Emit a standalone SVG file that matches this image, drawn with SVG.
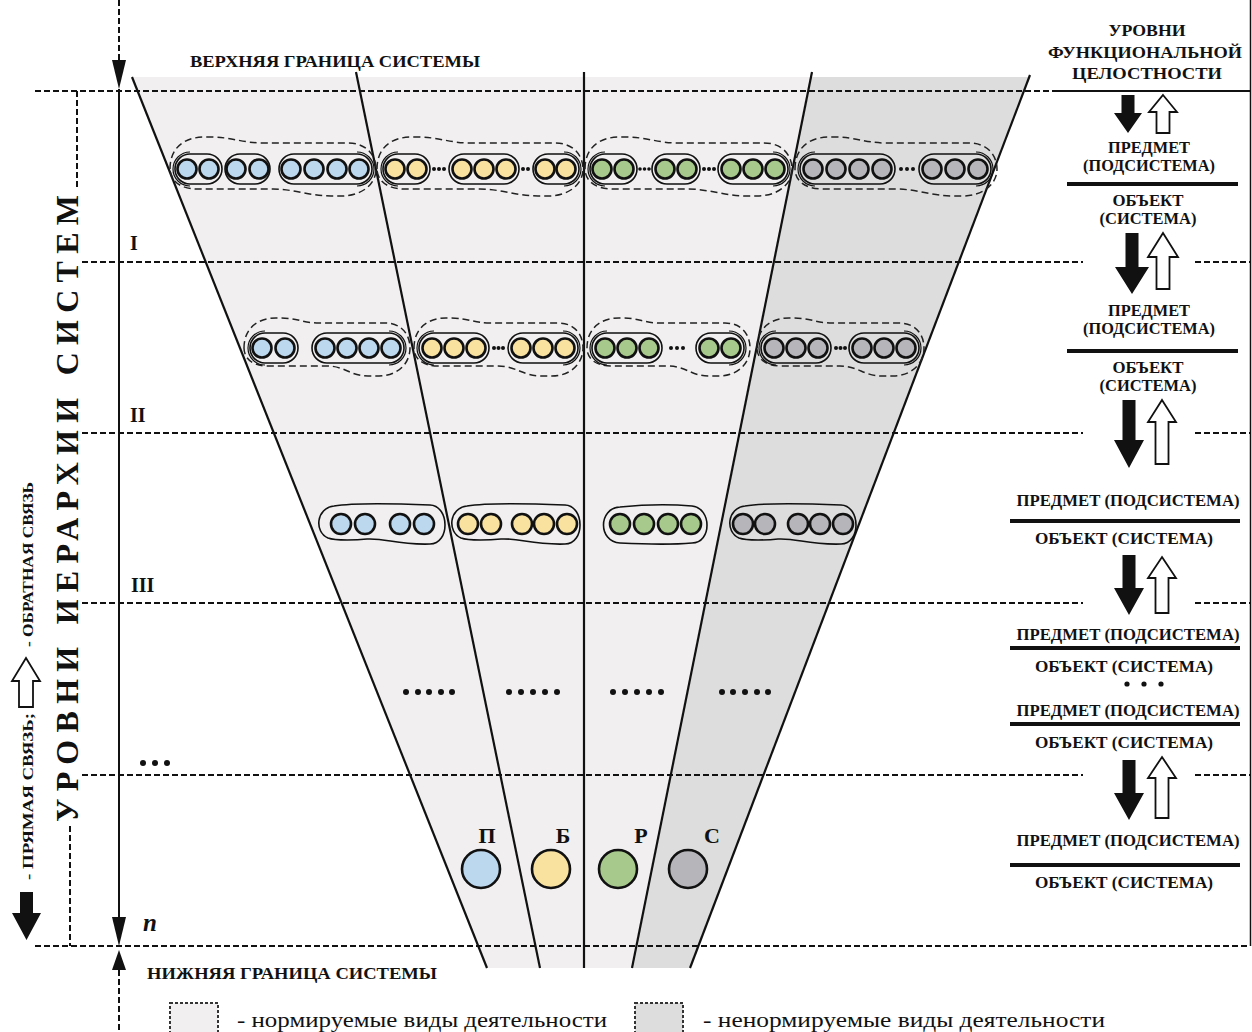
<svg xmlns="http://www.w3.org/2000/svg" width="1252" height="1032" viewBox="0 0 1252 1032">
  <style>
    .t { font-family: "Liberation Serif", "DejaVu Serif", serif; font-weight: bold; fill: #111; }
    .tr { font-family: "Liberation Serif", "DejaVu Serif", serif; fill: #111; }
    .mid { text-anchor: middle; }
    .dash { fill: none; stroke: #111; stroke-width: 2; stroke-dasharray: 6 3; }
    .edge { fill: none; stroke: #111; stroke-width: 2.2; }
    .cap { fill: none; stroke: #111; stroke-width: 1.6; }
    .ring { fill: none; stroke: #111; stroke-width: 1.2; }
    .encl { fill: none; stroke: #222; stroke-width: 1.5; stroke-dasharray: 7 4; }
    .blob { fill: none; stroke: #111; stroke-width: 1.6; }
    .dot { fill: #111; }
    .cb { fill: #bcd8ef; stroke: #111; stroke-width: 2.6; }
    .cy { fill: #f9e2a0; stroke: #111; stroke-width: 2.6; }
    .cg { fill: #a7c98b; stroke: #111; stroke-width: 2.6; }
    .cs { fill: #b6b6ba; stroke: #111; stroke-width: 2.6; }
    .bar { stroke: #111; stroke-width: 4; }
    .fwd { fill: #111; }
    .back { fill: #fff; stroke: #111; stroke-width: 1.8; }
  </style>

  <!-- funnel of activity kinds -->
  <g id="funnel">
    <polygon points="132,77 811,77 632,968 487,968" fill="#f1eff0"/>
    <polygon points="811,77 1030,77 690,968 632,968" fill="#dcdddc"/>
    <line class="edge" x1="132" y1="77" x2="487" y2="968"/>
    <line class="edge" x1="356" y1="72" x2="540" y2="968"/>
    <line class="edge" x1="584" y1="72" x2="584" y2="968"/>
    <line class="edge" x1="812" y1="72" x2="632" y2="968"/>
    <line class="edge" x1="1030" y1="75" x2="690" y2="968"/>
  </g>

  <!-- hierarchy levels -->
  <g id="levels">
    <line class="dash" x1="35" y1="91" x2="1058" y2="91"/>
    <line x1="1058" y1="91" x2="1250" y2="91" stroke="#111" stroke-width="2"/>
    <line class="dash" x1="82" y1="262" x2="1083" y2="262"/>
    <line class="dash" x1="1195" y1="262" x2="1250" y2="262"/>
    <line class="dash" x1="82" y1="433" x2="1083" y2="433"/>
    <line class="dash" x1="1195" y1="433" x2="1250" y2="433"/>
    <line class="dash" x1="82" y1="603" x2="1083" y2="603"/>
    <line class="dash" x1="1195" y1="603" x2="1250" y2="603"/>
    <line class="dash" x1="82" y1="775" x2="1083" y2="775"/>
    <line class="dash" x1="1195" y1="775" x2="1250" y2="775"/>
    <line class="dash" x1="35" y1="946" x2="1250" y2="946"/>
    <line x1="1250.5" y1="0" x2="1250.5" y2="946" stroke="#111" stroke-width="1.5"/>
    <line class="dash" x1="77" y1="91" x2="77" y2="188"/>
    <line class="dash" x1="70" y1="826" x2="70" y2="946"/>
    <text class="t" x="130" y="250" font-size="20">I</text>
    <text class="t" x="130" y="422" font-size="20">II</text>
    <text class="t" x="131" y="592" font-size="20">III</text>
    <circle class="dot" cx="143" cy="763" r="3"/>
    <circle class="dot" cx="155" cy="763" r="3"/>
    <circle class="dot" cx="167" cy="763" r="3"/>
    <text class="t" x="143" y="931" font-size="25" font-style="italic">n</text>
    <text class="t" x="190" y="67" font-size="16" textLength="290" lengthAdjust="spacingAndGlyphs">ВЕРХНЯЯ ГРАНИЦА СИСТЕМЫ</text>
    <text class="t" x="147" y="979" font-size="16" textLength="290" lengthAdjust="spacingAndGlyphs">НИЖНЯЯ ГРАНИЦА СИСТЕМЫ</text>
    <text class="t" transform="translate(78,822) rotate(-90)" font-size="32" textLength="627" lengthAdjust="spacing">УРОВНИ ИЕРАРХИИ СИСТЕМ</text>
  </g>

  <!-- level I -->
  <g id="row1-p">
    <path class="encl" d="M170,169 C170,147 185,137 205,137 L211,137 C231,137 243,143 263,143 L348,143 C368,143 376,157 376,169 C376,185 361,196 341,196 L331,196 C311,196 293,189 273,189 L198,189 C178,189 170,179 170,169 Z"/>
    <path class="ring" d="M190,152 A17,17 0 0 0 190,186 M357,152 A17,17 0 0 1 357,186"/>
    <rect class="cap" x="175" y="154" width="47" height="30" rx="15"/>
    <rect class="cap" x="225" y="154" width="45" height="30" rx="15"/>
    <rect class="cap" x="279" y="154" width="93" height="30" rx="15"/>
    <circle class="cb" cx="187" cy="169" r="9.5"/><circle class="cb" cx="209" cy="169" r="9.5"/>
    <circle class="cb" cx="236" cy="169" r="9.5"/><circle class="cb" cx="259" cy="169" r="9.5"/>
    <circle class="cb" cx="291" cy="169" r="9.5"/><circle class="cb" cx="314" cy="169" r="9.5"/>
    <circle class="cb" cx="337" cy="169" r="9.5"/><circle class="cb" cx="359" cy="169" r="9.5"/>
  </g>
  <g id="row1-b">
    <path class="encl" d="M377,169 C377,147 392,137 412,137 L418,137 C438,137 450,143 470,143 L555,143 C575,143 583,157 583,169 C583,185 568,196 548,196 L538,196 C518,196 500,189 480,189 L405,189 C385,189 377,179 377,169 Z"/>
    <path class="ring" d="M398,152 A17,17 0 0 0 398,186 M564,152 A17,17 0 0 1 564,186"/>
    <rect class="cap" x="383" y="154" width="47" height="30" rx="15"/>
    <rect class="cap" x="449" y="154" width="70" height="30" rx="15"/>
    <rect class="cap" x="533" y="154" width="46" height="30" rx="15"/>
    <circle class="dot" cx="434" cy="169" r="2"/><circle class="dot" cx="439" cy="169" r="2"/><circle class="dot" cx="444" cy="169" r="2"/>
    <circle class="dot" cx="523" cy="169" r="2"/><circle class="dot" cx="528" cy="169" r="2"/>
    <circle class="cy" cx="395" cy="169" r="9.5"/><circle class="cy" cx="417" cy="169" r="9.5"/>
    <circle class="cy" cx="462" cy="169" r="9.5"/><circle class="cy" cx="484" cy="169" r="9.5"/><circle class="cy" cx="506" cy="169" r="9.5"/>
    <circle class="cy" cx="545" cy="169" r="9.5"/><circle class="cy" cx="566" cy="169" r="9.5"/>
  </g>
  <g id="row1-r">
    <path class="encl" d="M585,169 C585,147 600,137 620,137 L626,137 C646,137 658,143 678,143 L764,143 C784,143 792,157 792,169 C792,185 777,196 757,196 L746,196 C726,196 708,189 688,189 L613,189 C593,189 585,179 585,169 Z"/>
    <path class="ring" d="M605,152 A17,17 0 0 0 605,186 M773,152 A17,17 0 0 1 773,186"/>
    <rect class="cap" x="590" y="154" width="47" height="30" rx="15"/>
    <rect class="cap" x="652" y="154" width="48" height="30" rx="15"/>
    <rect class="cap" x="718" y="154" width="70" height="30" rx="15"/>
    <circle class="dot" cx="640" cy="169" r="1.8"/><circle class="dot" cx="644.5" cy="169" r="1.8"/><circle class="dot" cx="649" cy="169" r="1.8"/>
    <circle class="dot" cx="704" cy="169" r="2"/><circle class="dot" cx="709" cy="169" r="2"/><circle class="dot" cx="714" cy="169" r="2"/>
    <circle class="cg" cx="602" cy="169" r="9.5"/><circle class="cg" cx="624" cy="169" r="9.5"/>
    <circle class="cg" cx="665" cy="169" r="9.5"/><circle class="cg" cx="687" cy="169" r="9.5"/>
    <circle class="cg" cx="731" cy="169" r="9.5"/><circle class="cg" cx="753" cy="169" r="9.5"/><circle class="cg" cx="775" cy="169" r="9.5"/>
  </g>
  <g id="row1-s">
    <path class="encl" d="M795,169 C795,147 810,137 830,137 L835,137 C855,137 866,143 886,143 L969,143 C989,143 997,157 997,169 C997,185 982,196 962,196 L953,196 C933,196 916,189 896,189 L823,189 C803,189 795,179 795,169 Z"/>
    <path class="ring" d="M815,152 A17,17 0 0 0 815,186 M976,152 A17,17 0 0 1 976,186"/>
    <rect class="cap" x="800" y="154" width="95" height="30" rx="15"/>
    <rect class="cap" x="919" y="154" width="72" height="30" rx="15"/>
    <circle class="dot" cx="901" cy="169" r="2"/><circle class="dot" cx="907" cy="169" r="2"/><circle class="dot" cx="913" cy="169" r="2"/>
    <circle class="cs" cx="813" cy="169" r="9.5"/><circle class="cs" cx="836" cy="169" r="9.5"/>
    <circle class="cs" cx="859" cy="169" r="9.5"/><circle class="cs" cx="882" cy="169" r="9.5"/>
    <circle class="cs" cx="932" cy="169" r="9.5"/><circle class="cs" cx="955" cy="169" r="9.5"/><circle class="cs" cx="978" cy="169" r="9.5"/>
  </g>

  <!-- level II -->
  <g id="row2-p">
    <path class="encl" d="M244,348 C244,328 258,318 276,318 L281,318 C297,318 303,323 319,323 L385,323 C402,323 410,335 410,348 C410,364 397,376 379,376 L368,376 C350,376 345,366 327,366 L268,366 C252,366 244,358 244,348 Z"/>
    <path class="ring" d="M265,331 A17,17 0 0 0 265,365 M389,331 A17,17 0 0 1 389,365"/>
    <rect class="cap" x="250" y="333" width="48" height="30" rx="15"/>
    <rect class="cap" x="312" y="333" width="92" height="30" rx="15"/>
    <circle class="cb" cx="262" cy="348" r="9.5"/><circle class="cb" cx="285" cy="348" r="9.5"/>
    <circle class="cb" cx="325" cy="348" r="9.5"/><circle class="cb" cx="347" cy="348" r="9.5"/>
    <circle class="cb" cx="369" cy="348" r="9.5"/><circle class="cb" cx="391" cy="348" r="9.5"/>
  </g>
  <g id="row2-b">
    <path class="encl" d="M414,348 C414,328 428,318 446,318 L451,318 C467,318 474,323 490,323 L558,323 C575,323 583,335 583,348 C583,364 570,376 552,376 L541,376 C523,376 516,366 498,366 L438,366 C422,366 414,358 414,348 Z"/>
    <path class="ring" d="M434,331 A17,17 0 0 0 434,365 M563,331 A17,17 0 0 1 563,365"/>
    <rect class="cap" x="419" y="333" width="70" height="30" rx="15"/>
    <rect class="cap" x="508" y="333" width="70" height="30" rx="15"/>
    <circle class="dot" cx="494" cy="348" r="2"/><circle class="dot" cx="498.5" cy="348" r="2"/><circle class="dot" cx="503" cy="348" r="2"/>
    <circle class="cy" cx="432" cy="348" r="9.5"/><circle class="cy" cx="454" cy="348" r="9.5"/><circle class="cy" cx="476" cy="348" r="9.5"/>
    <circle class="cy" cx="521" cy="348" r="9.5"/><circle class="cy" cx="543" cy="348" r="9.5"/><circle class="cy" cx="565" cy="348" r="9.5"/>
  </g>
  <g id="row2-r">
    <path class="encl" d="M587,348 C587,328 601,318 619,318 L623,318 C639,318 644,323 660,323 L725,323 C742,323 750,335 750,348 C750,364 737,376 719,376 L709,376 C691,376 686,366 668,366 L611,366 C595,366 587,358 587,348 Z"/>
    <path class="ring" d="M607,331 A17,17 0 0 0 607,365 M729,331 A17,17 0 0 1 729,365"/>
    <rect class="cap" x="592" y="333" width="70" height="30" rx="15"/>
    <rect class="cap" x="696" y="333" width="48" height="30" rx="15"/>
    <circle class="dot" cx="671" cy="348" r="2"/><circle class="dot" cx="677" cy="348" r="2"/><circle class="dot" cx="683" cy="348" r="2"/>
    <circle class="cg" cx="605" cy="348" r="9.5"/><circle class="cg" cx="627" cy="348" r="9.5"/><circle class="cg" cx="649" cy="348" r="9.5"/>
    <circle class="cg" cx="709" cy="348" r="9.5"/><circle class="cg" cx="731" cy="348" r="9.5"/>
  </g>
  <g id="row2-s">
    <path class="encl" d="M757,348 C757,328 771,318 789,318 L794,318 C810,318 816,323 832,323 L899,323 C916,323 924,335 924,348 C924,364 911,376 893,376 L882,376 C864,376 858,366 840,366 L781,366 C765,366 757,358 757,348 Z"/>
    <path class="ring" d="M776,331 A17,17 0 0 0 776,365 M904,331 A17,17 0 0 1 904,365"/>
    <rect class="cap" x="761" y="333" width="70" height="30" rx="15"/>
    <rect class="cap" x="849" y="333" width="70" height="30" rx="15"/>
    <circle class="dot" cx="836" cy="348" r="2"/><circle class="dot" cx="840.5" cy="348" r="2"/><circle class="dot" cx="845" cy="348" r="2"/>
    <circle class="cs" cx="774" cy="348" r="9.5"/><circle class="cs" cx="796" cy="348" r="9.5"/><circle class="cs" cx="818" cy="348" r="9.5"/>
    <circle class="cs" cx="862" cy="348" r="9.5"/><circle class="cs" cx="884" cy="348" r="9.5"/><circle class="cs" cx="906" cy="348" r="9.5"/>
  </g>

  <!-- level III -->
  <g id="row3-p">
    <path class="blob" d="M334,506 C358,502 406,504 430,505 C450,506 450,544 430,544 C396,545 387,538 367,539 C358,540 336,541 328,538 C314,532 316,508 334,506 Z"/>
    <circle class="cb" cx="341" cy="524" r="10"/><circle class="cb" cx="365" cy="524" r="10"/>
    <circle class="cb" cx="400" cy="524" r="10"/><circle class="cb" cx="424" cy="524" r="10"/>
  </g>
  <g id="row3-b">
    <path class="blob" d="M467,506 C491,502 541,504 565,505 C585,506 585,544 565,544 C531,545 521,538 501,539 C491,540 469,541 461,538 C447,532 449,508 467,506 Z"/>
    <circle class="cy" cx="468" cy="524" r="10"/><circle class="cy" cx="491" cy="524" r="10"/>
    <circle class="cy" cx="522" cy="524" r="10"/><circle class="cy" cx="544" cy="524" r="10"/><circle class="cy" cx="567" cy="524" r="10"/>
  </g>
  <g id="row3-r">
    <path class="blob" d="M620,507 C650,504 680,505 692,506 C712,508 712,543 692,543 C670,545 640,544 620,543 C598,542 598,508 620,507 Z"/>
    <circle class="cg" cx="620" cy="524" r="10"/><circle class="cg" cx="644" cy="524" r="10"/>
    <circle class="cg" cx="668" cy="524" r="10"/><circle class="cg" cx="691" cy="524" r="10"/>
  </g>
  <g id="row3-s">
    <path class="blob" d="M745,506 C769,502 817,504 841,505 C861,506 861,544 841,544 C807,545 798,538 778,539 C769,540 747,541 739,538 C725,532 727,508 745,506 Z"/>
    <circle class="cs" cx="743" cy="524" r="10"/><circle class="cs" cx="765" cy="524" r="10"/>
    <circle class="cs" cx="798" cy="524" r="10"/><circle class="cs" cx="820" cy="524" r="10"/><circle class="cs" cx="843" cy="524" r="10"/>
  </g>

  <!-- intermediate levels -->
  <g id="row4">
    <circle class="dot" cx="406" cy="692" r="3"/><circle class="dot" cx="418" cy="692" r="3"/><circle class="dot" cx="429" cy="692" r="3"/><circle class="dot" cx="441" cy="692" r="3"/><circle class="dot" cx="452" cy="692" r="3"/>
    <circle class="dot" cx="509" cy="692" r="3"/><circle class="dot" cx="521" cy="692" r="3"/><circle class="dot" cx="533" cy="692" r="3"/><circle class="dot" cx="545" cy="692" r="3"/><circle class="dot" cx="557" cy="692" r="3"/>
    <circle class="dot" cx="613" cy="692" r="3"/><circle class="dot" cx="625" cy="692" r="3"/><circle class="dot" cx="637" cy="692" r="3"/><circle class="dot" cx="649" cy="692" r="3"/><circle class="dot" cx="661" cy="692" r="3"/>
    <circle class="dot" cx="722" cy="692" r="3"/><circle class="dot" cx="733" cy="692" r="3"/><circle class="dot" cx="745" cy="692" r="3"/><circle class="dot" cx="757" cy="692" r="3"/><circle class="dot" cx="768" cy="692" r="3"/>
  </g>

  <!-- level n: basic activity kinds -->
  <g id="base-p">
    <circle class="cb" cx="481" cy="869" r="19" stroke-width="2.4"/>
    <text class="t mid" x="487" y="843" font-size="22">П</text>
  </g>
  <g id="base-b">
    <circle class="cy" cx="551" cy="869" r="19" stroke-width="2.4"/>
    <text class="t mid" x="563" y="843" font-size="22">Б</text>
  </g>
  <g id="base-r">
    <circle class="cg" cx="618" cy="869" r="19" stroke-width="2.4"/>
    <text class="t mid" x="641" y="843" font-size="22">Р</text>
  </g>
  <g id="base-s">
    <circle class="cs" cx="688" cy="869" r="19" stroke-width="2.4"/>
    <text class="t mid" x="712" y="843" font-size="22">С</text>
  </g>

  <!-- functional integrity column -->
  <g id="integrity">
    <text class="t mid" x="1147" y="36" font-size="17" textLength="77" lengthAdjust="spacingAndGlyphs">УРОВНИ</text>
    <text class="t mid" x="1145" y="58" font-size="17" textLength="194" lengthAdjust="spacingAndGlyphs">ФУНКЦИОНАЛЬНОЙ</text>
    <text class="t mid" x="1147" y="79" font-size="17" textLength="150" lengthAdjust="spacingAndGlyphs">ЦЕЛОСТНОСТИ</text>

    <text class="t mid" x="1149" y="153" font-size="16" textLength="82" lengthAdjust="spacingAndGlyphs">ПРЕДМЕТ</text>
    <text class="t mid" x="1149" y="171" font-size="16" textLength="132" lengthAdjust="spacingAndGlyphs">(ПОДСИСТЕМА)</text>
    <line class="bar" x1="1067" y1="184" x2="1238" y2="184"/>
    <text class="t mid" x="1148" y="206" font-size="16" textLength="71" lengthAdjust="spacingAndGlyphs">ОБЪЕКТ</text>
    <text class="t mid" x="1148" y="224" font-size="16" textLength="97" lengthAdjust="spacingAndGlyphs">(СИСТЕМА)</text>

    <text class="t mid" x="1149" y="316" font-size="16" textLength="82" lengthAdjust="spacingAndGlyphs">ПРЕДМЕТ</text>
    <text class="t mid" x="1149" y="334" font-size="16" textLength="132" lengthAdjust="spacingAndGlyphs">(ПОДСИСТЕМА)</text>
    <line class="bar" x1="1067" y1="351" x2="1238" y2="351"/>
    <text class="t mid" x="1148" y="373" font-size="16" textLength="71" lengthAdjust="spacingAndGlyphs">ОБЪЕКТ</text>
    <text class="t mid" x="1148" y="391" font-size="16" textLength="97" lengthAdjust="spacingAndGlyphs">(СИСТЕМА)</text>

    <text class="t mid" x="1128" y="506" font-size="16" textLength="223" lengthAdjust="spacingAndGlyphs">ПРЕДМЕТ  (ПОДСИСТЕМА)</text>
    <line class="bar" x1="1010" y1="521" x2="1240" y2="521"/>
    <text class="t mid" x="1124" y="544" font-size="16" textLength="178" lengthAdjust="spacingAndGlyphs">ОБЪЕКТ  (СИСТЕМА)</text>

    <text class="t mid" x="1128" y="640" font-size="16" textLength="223" lengthAdjust="spacingAndGlyphs">ПРЕДМЕТ  (ПОДСИСТЕМА)</text>
    <line class="bar" x1="1010" y1="648" x2="1240" y2="648"/>
    <text class="t mid" x="1124" y="672" font-size="16" textLength="178" lengthAdjust="spacingAndGlyphs">ОБЪЕКТ  (СИСТЕМА)</text>
    <circle class="dot" cx="1127" cy="684" r="2.6"/><circle class="dot" cx="1144" cy="684" r="2.6"/><circle class="dot" cx="1161" cy="684" r="2.6"/>
    <text class="t mid" x="1128" y="716" font-size="16" textLength="223" lengthAdjust="spacingAndGlyphs">ПРЕДМЕТ  (ПОДСИСТЕМА)</text>
    <line class="bar" x1="1010" y1="724" x2="1240" y2="724"/>
    <text class="t mid" x="1124" y="748" font-size="16" textLength="178" lengthAdjust="spacingAndGlyphs">ОБЪЕКТ  (СИСТЕМА)</text>

    <text class="t mid" x="1128" y="846" font-size="16" textLength="223" lengthAdjust="spacingAndGlyphs">ПРЕДМЕТ  (ПОДСИСТЕМА)</text>
    <line class="bar" x1="1010" y1="865" x2="1240" y2="865"/>
    <text class="t mid" x="1124" y="888" font-size="16" textLength="178" lengthAdjust="spacingAndGlyphs">ОБЪЕКТ  (СИСТЕМА)</text>
  </g>

  <!-- links: hierarchy axis and direct / feedback arrows -->
  <g id="connectors">
    <line class="dash" x1="119" y1="0" x2="119" y2="60"/>
    <polygon class="fwd" points="112,60 126,60 119,89"/>
    <line x1="119" y1="89" x2="119" y2="918" stroke="#111" stroke-width="2"/>
    <polygon class="fwd" points="112,917 126,917 119,946"/>
    <polygon class="fwd" points="112,970 126,970 119,950"/>
    <line class="dash" x1="119" y1="970" x2="119" y2="1032" stroke-width="1.5"/>

    <path class="fwd" d="M1121.5,95 H1134.5 V113 H1142 L1128,133 L1114,113 H1121.5 Z"/>
    <path class="back" d="M1163,95 L1177,112 H1169.5 V133 H1156.5 V112 H1149 Z"/>
    <path class="fwd" d="M1125.5,233 H1138.5 V267 H1149 L1132,294 L1115,267 H1125.5 Z"/>
    <path class="back" d="M1163,233 L1178,257 H1169.5 V289 H1156.5 V257 H1148 Z"/>
    <path class="fwd" d="M1122.5,400 H1135.5 V440 H1144 L1129,468 L1114,440 H1122.5 Z"/>
    <path class="back" d="M1162,400 L1176,422 H1168.5 V464 H1155.5 V422 H1148 Z"/>
    <path class="fwd" d="M1122.5,555 H1135.5 V588 H1144 L1129,615 L1114,588 H1122.5 Z"/>
    <path class="back" d="M1162,557 L1176,578 H1168.5 V613 H1155.5 V578 H1148 Z"/>
    <path class="fwd" d="M1122.5,760 H1135.5 V793 H1144 L1129,820 L1114,793 H1122.5 Z"/>
    <path class="back" d="M1162,757 L1176,778 H1168.5 V818 H1155.5 V778 H1148 Z"/>
  </g>

  <!-- arrow legend -->
  <g id="arrow-legend">
    <path class="fwd" d="M20,892 H33 V913 H41 L26.5,940 L12,913 H20 Z"/>
    <text class="t" transform="translate(33,880) rotate(-90)" font-size="15" textLength="167" lengthAdjust="spacingAndGlyphs">- ПРЯМАЯ  СВЯЗЬ;</text>
    <path class="back" d="M26,658 L40,681 H33 V707 H19 V681 H12 Z"/>
    <text class="t" transform="translate(33,647) rotate(-90)" font-size="15" textLength="165" lengthAdjust="spacingAndGlyphs">- ОБРАТНАЯ  СВЯЗЬ</text>
  </g>

  <!-- fill legend -->
  <g id="fill-legend">
    <rect x="170" y="1003" width="48" height="40" fill="#f1eff0" stroke="#333" stroke-width="2" stroke-dasharray="3 2"/>
    <text class="tr" x="237" y="1027" font-size="22" textLength="370" lengthAdjust="spacingAndGlyphs">- нормируемые виды деятельности</text>
    <rect x="635" y="1003" width="48" height="40" fill="#dcdddc" stroke="#333" stroke-width="2" stroke-dasharray="3 2"/>
    <text class="tr" x="703" y="1027" font-size="22" textLength="402" lengthAdjust="spacingAndGlyphs">- ненормируемые виды деятельности</text>
  </g>
</svg>
